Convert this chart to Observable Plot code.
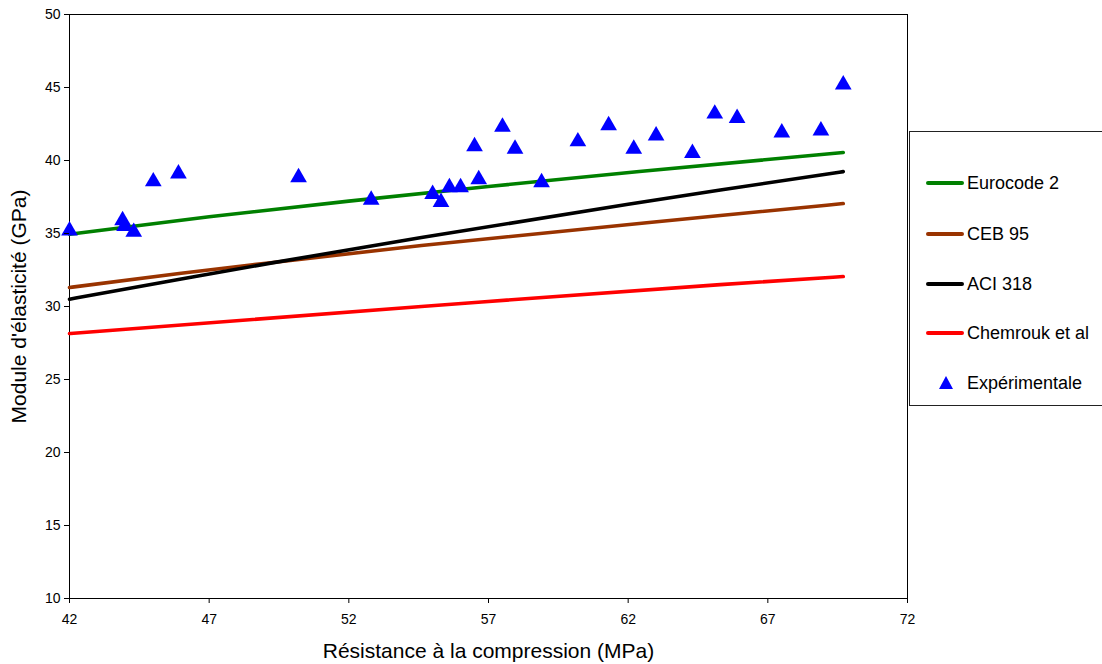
<!DOCTYPE html>
<html>
<head>
<meta charset="utf-8">
<script src="https://cdn.jsdelivr.net/npm/d3@7"></script>
<script src="https://cdn.jsdelivr.net/npm/@observablehq/plot@0.6"></script>
<style>
  html, body { margin: 0; padding: 0; background: #fff; overflow: hidden; }
  #wrap { position: relative; width: 1102px; height: 664px; font-family: "Liberation Sans", Arial, sans-serif; }
  #legend { position: absolute; left: 909px; top: 131px; width: 210px; height: 275px; border: 1px solid #222; box-sizing: border-box; background: #fff; }
  .item { position: absolute; left: 0; height: 20px; font-size: 18px; line-height: 20px; color: #000; }
  .swatch { position: absolute; left: 16px; width: 38px; height: 4px; border-radius: 2px; }
  .lab { position: absolute; left: 57px; top: 0; white-space: nowrap; }
</style>
</head>
<body>
<div id="wrap"></div>
<script>
// Experimental points: compressive strength (MPa) and modulus (GPa)
const expX = [42.0, 43.9, 43.97, 44.3, 45.0, 45.9, 50.2, 52.8, 55.0, 55.3, 55.6, 56.0, 56.5, 56.65, 57.5, 57.95, 58.9, 60.2, 61.3, 62.2, 63.0, 64.3, 65.1, 65.9, 67.5, 68.9, 69.7];
const expY = [35.2, 35.9, 35.5, 35.1, 38.56, 39.1, 38.84, 37.3, 37.7, 37.15, 38.15, 38.15, 40.96, 38.7, 42.3, 40.8, 38.5, 41.3, 42.4, 40.8, 41.7, 40.5, 43.2, 42.9, 41.9, 42.05, 45.2];

// Model curves
const eurocodeX = [42.0, 47.0, 52.0, 57.0, 62.4, 69.7];
const eurocodeY = [34.95, 36.15, 37.22, 38.22, 39.25, 40.55];
const cebX = [42.0, 46.0, 49.2, 54.6, 65.3, 69.7];
const cebY = [31.3, 32.28, 33.0, 34.18, 36.23, 37.05];
const aciX = [42.0, 46.0, 49.2, 54.6, 62.0, 65.3, 69.7];
const aciY = [30.5, 31.88, 32.97, 34.73, 37.0, 37.98, 39.24];
const chemroukX = [42.0, 54.6, 65.3, 69.7];
const chemroukY = [28.15, 30.0, 31.5, 32.05];

const seriesNames = ["Eurocode 2", "CEB 95", "ACI 318", "Chemrouk et al"];
const seriesColors = ["#008000", "#993300", "#000000", "#ff0000"];
const seriesXs = [eurocodeX, cebX, aciX, chemroukX];
const seriesYs = [eurocodeY, cebY, aciY, chemroukY];
const expName = "Expérimentale";

const xTicks = [42, 47, 52, 57, 62, 67, 72];
const yTicks = [10, 15, 20, 25, 30, 35, 40, 45, 50];
const xTitle = "Résistance à la compression (MPa)";
const yTitle = "Module d'élasticité (GPa)";

const lineData = [];
seriesNames.forEach((name, i) => {
  seriesXs[i].forEach((x, j) => lineData.push({series: name, x, y: seriesYs[i][j]}));
});
const pts = expX.map((x, i) => ({x, y: expY[i]}));

const chart = Plot.plot({
  width: 1102,
  height: 664,
  marginLeft: 69,
  marginRight: 195,
  marginTop: 14,
  marginBottom: 66,
  style: {fontFamily: "'Liberation Sans', Arial, sans-serif", fontSize: "13px", color: "#000", background: "#fff"},
  x: {domain: [42, 72]},
  y: {domain: [10, 50]},
  color: {domain: seriesNames, range: seriesColors},
  marks: [
    Plot.frame({stroke: "#000", strokeWidth: 1}),
    Plot.line(lineData, {x: "x", y: "y", z: "series", stroke: "series", strokeWidth: 3.6, curve: "monotone-x"}),
    Plot.dot(pts, {x: "x", y: "y", symbol: "triangle", r: 6.2, fill: "#0000ff", stroke: "none"}),
    Plot.axisX({ticks: xTicks, tickSize: 5, tickPadding: 11, label: null, fontSize: 14, tickFormat: d => String(d)}),
    Plot.axisY({ticks: yTicks, tickSize: 5, tickPadding: 4, label: null, fontSize: 14, tickFormat: d => String(d)}),
    Plot.text([xTitle], {frameAnchor: "bottom", dy: 59, fontSize: 21, textAnchor: "middle", text: d => d}),
    Plot.text([yTitle], {frameAnchor: "left", dx: -50, rotate: -90, fontSize: 21, textAnchor: "middle", text: d => d})
  ]
});
const wrap = document.getElementById("wrap");
wrap.appendChild(chart);

const legend = document.createElement("div");
legend.id = "legend";
const rowY = [51, 102, 152, 201, 251];
seriesNames.forEach((name, i) => {
  const it = document.createElement("div");
  it.className = "item";
  it.style.top = (rowY[i] - 10) + "px";
  it.style.width = "200px";
  it.innerHTML = `<span class="swatch" style="background:${seriesColors[i]};top:8px"></span><span class="lab">${name}</span>`;
  legend.appendChild(it);
});
const ex = document.createElement("div");
ex.className = "item";
ex.style.top = (rowY[4] - 10) + "px";
ex.style.width = "200px";
ex.innerHTML = `<svg width="20" height="20" style="position:absolute;left:26px;top:0"><polygon points="10,3 17,16 3,16" fill="#0000ff"/></svg><span class="lab">${expName}</span>`;
legend.appendChild(ex);
wrap.appendChild(legend);
</script>
</body>
</html>
